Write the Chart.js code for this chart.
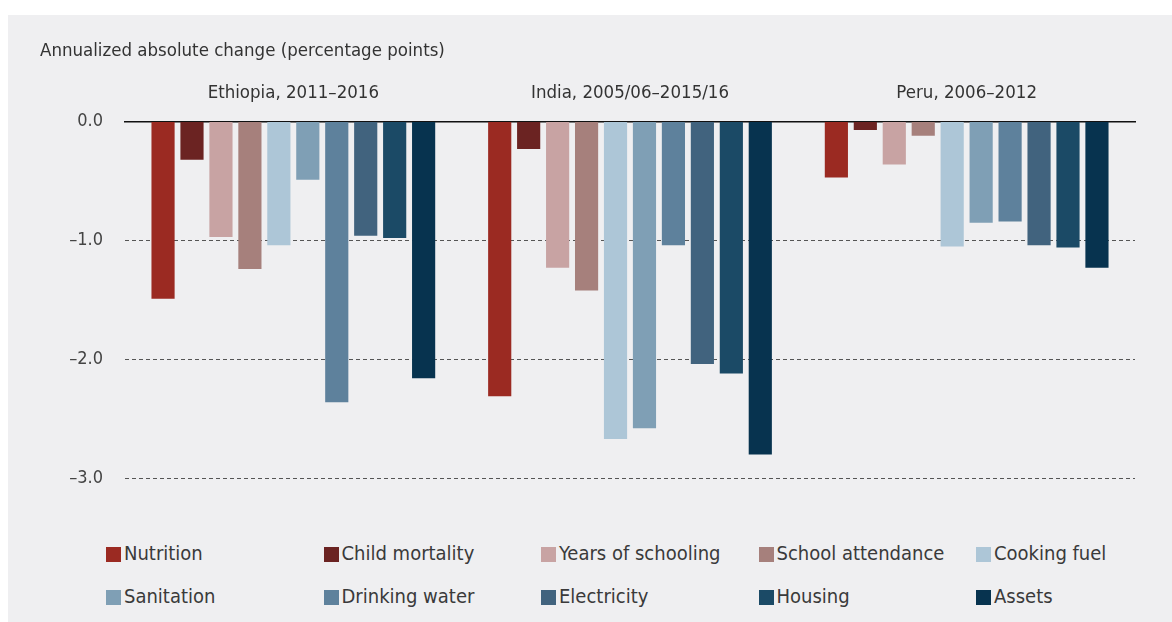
<!DOCTYPE html>
<html>
<head>
<meta charset="utf-8">
<script src="https://cdn.jsdelivr.net/npm/chart.js@4"></script>
<style>
  body { margin: 0; background: #fff; width: 1172px; height: 622px; overflow: hidden; }
  #panel { position: absolute; left: 8px; top: 15px; width: 1164px; height: 607px; background: #efeff1; }
  #chartBox { position: absolute; left: 0; top: 0; width: 1164px; height: 496px; }
  #legend { position: absolute; left: 98px; top: 524px; width: 1088px;
    display: grid; grid-template-columns: repeat(5, 217.5px); row-gap: 15px;
    font-family: "Liberation Sans Narrow", "DejaVu Sans Condensed", sans-serif; font-size: 20px; color: #3a3a3a; }
  .item { display: flex; align-items: center; height: 28px; white-space: nowrap; }
  .box { width: 15px; height: 15px; margin-right: 3px; margin-top: 2px; }
</style>
</head>
<body>
<div id="panel">
  <div id="chartBox"><canvas id="myChart"></canvas></div>
  <div id="legend"></div>
</div>
<script>
// categories and series
var countries = ["Ethiopia, 2011–2016", "India, 2005/06–2015/16", "Peru, 2006–2012"];
var indicators = ["Nutrition", "Child mortality", "Years of schooling", "School attendance", "Cooking fuel",
  "Sanitation", "Drinking water", "Electricity", "Housing", "Assets"];
var colors = ["#9b2a22", "#6b2322", "#c8a3a3", "#a6807c", "#adc6d7",
  "#7f9fb5", "#5e819c", "#41637e", "#1b4a66", "#07334f"];

// values per country, same order as indicators
var ethiopia = [-1.49, -0.32, -0.97, -1.24, -1.04, -0.49, -2.36, -0.96, -0.98, -2.16];
var india = [-2.31, -0.23, -1.23, -1.42, -2.67, -2.58, -1.04, -2.04, -2.12, -2.80];
var peru = [-0.47, -0.07, -0.36, -0.12, -1.05, -0.85, -0.84, -1.04, -1.06, -1.23];

var yTicks = [0, -1, -2, -3];

var fontFamily = '"Liberation Sans Narrow", "DejaVu Sans Condensed", sans-serif';

var datasets = indicators.map(function (name, i) {
  return {
    label: name,
    data: [ethiopia[i], india[i], peru[i]],
    backgroundColor: colors[i],
    borderWidth: 0,
    categoryPercentage: 0.86,
    barPercentage: 0.8,
  };
});

var ctx = document.getElementById("myChart").getContext("2d");
// eslint-disable-next-line no-undef
var myChart = new Chart(ctx, {
  type: "bar",
  data: { labels: countries, datasets: datasets },
  options: {
    responsive: true,
    maintainAspectRatio: false,
    animation: false,
    layout: { padding: { top: 25, left: 32, right: 37, bottom: 20 } },
    plugins: {
      legend: { display: false },
      tooltip: { enabled: false },
      title: {
        display: true,
        text: "Annualized absolute change (percentage points)",
        align: "start",
        color: "#333",
        font: { family: fontFamily, size: 18.5, weight: "normal" },
        padding: { top: 0, bottom: 8 },
      },
    },
    scales: {
      x: {
        position: "top",
        grid: { display: false },
        border: { display: true, color: "#111", width: 1.5 },
        ticks: { color: "#333", padding: 9, font: { family: fontFamily, size: 18.5 } },
        afterFit: function (scale) { scale.height = 51.4; },
      },
      y: {
        min: -3,
        max: 0,
        afterBuildTicks: function (scale) {
          scale.ticks = yTicks.map(function (v) { return { value: v }; });
        },
        afterFit: function (scale) { scale.width = 85; },
        grid: {
          drawTicks: false,
          color: function (c) { return c.tick && c.tick.value === 0 ? "rgba(0,0,0,0)" : "#555"; },
          lineWidth: 1,
        },
        border: { display: false, dash: [4, 3] },
        ticks: {
          padding: 22,
          color: "#444",
          font: { family: fontFamily, size: 18 },
          callback: function (v) { return v === 0 ? "0.0" : "–" + Math.abs(v).toFixed(1); },
        },
      },
    },
  },
});

// legend in fixed columns
var legend = document.getElementById("legend");
indicators.forEach(function (name, i) {
  var item = document.createElement("div");
  item.className = "item";
  var box = document.createElement("span");
  box.className = "box";
  box.style.background = colors[i];
  var label = document.createElement("span");
  label.textContent = name;
  item.appendChild(box);
  item.appendChild(label);
  legend.appendChild(item);
});
</script>
</body>
</html>
